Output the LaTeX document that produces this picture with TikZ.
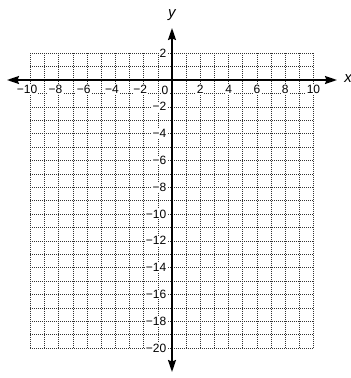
\documentclass[tikz,border=0pt]{standalone}
\usepackage{fontspec}
\setmainfont{Liberation Sans}
\usetikzlibrary{arrows.meta}
\begin{document}
\begin{tikzpicture}[x=14.15pt,y=13.4pt,
  gridline/.style={black!80, dash pattern=on 0.9pt off 1.1pt, line width=0.6pt},
  axisline/.style={line width=1.6pt, {Stealth[length=12pt,width=8pt,inset=1.5pt]}-{Stealth[length=12pt,width=8pt,inset=1.5pt]}},
  numlbl/.style={font=\fontsize{12}{13}\selectfont, fill=white, inner sep=0.6pt},
  axlbl/.style={font=\fontsize{15}{16}\selectfont\itshape, inner sep=0pt},
]
\useasboundingbox (-172pt,-298pt) rectangle (179pt,80pt);
\draw[gridline, xstep=1, ystep=1] (-10,-20) grid (10,2);
% labels
\foreach \v in {2,4,6,8,10} {
  \node[numlbl] (xp\v) at (\v,-0.67) {\v};
  \node[numlbl, xshift=-3.4pt] (xn\v) at (-\v,-0.67) {−\v};
}
\node[numlbl, anchor=east] (yp2) at (-0.35,2) {2};
\foreach \v in {2,4,...,20} {
  \node[numlbl, anchor=east] (yn\v) at (-0.35,-\v) {−\v};
}
\node[numlbl] (zero) at (-0.5,-0.75) {0};
% axes
\coordinate (xl) at (-11.66,0);
\coordinate (xr) at (11.66,0);
\coordinate (yt) at (0,3.88);
\coordinate (yb) at (0,-21.79);
\draw[axisline] (xl) -- (xr);
\draw[axisline] (yb) -- (yt);
\node[axlbl] (xlab) at (12.44,0.1) {x};
\node[axlbl] (ylab) at (0,4.85) {y};
\end{tikzpicture}
\end{document}
